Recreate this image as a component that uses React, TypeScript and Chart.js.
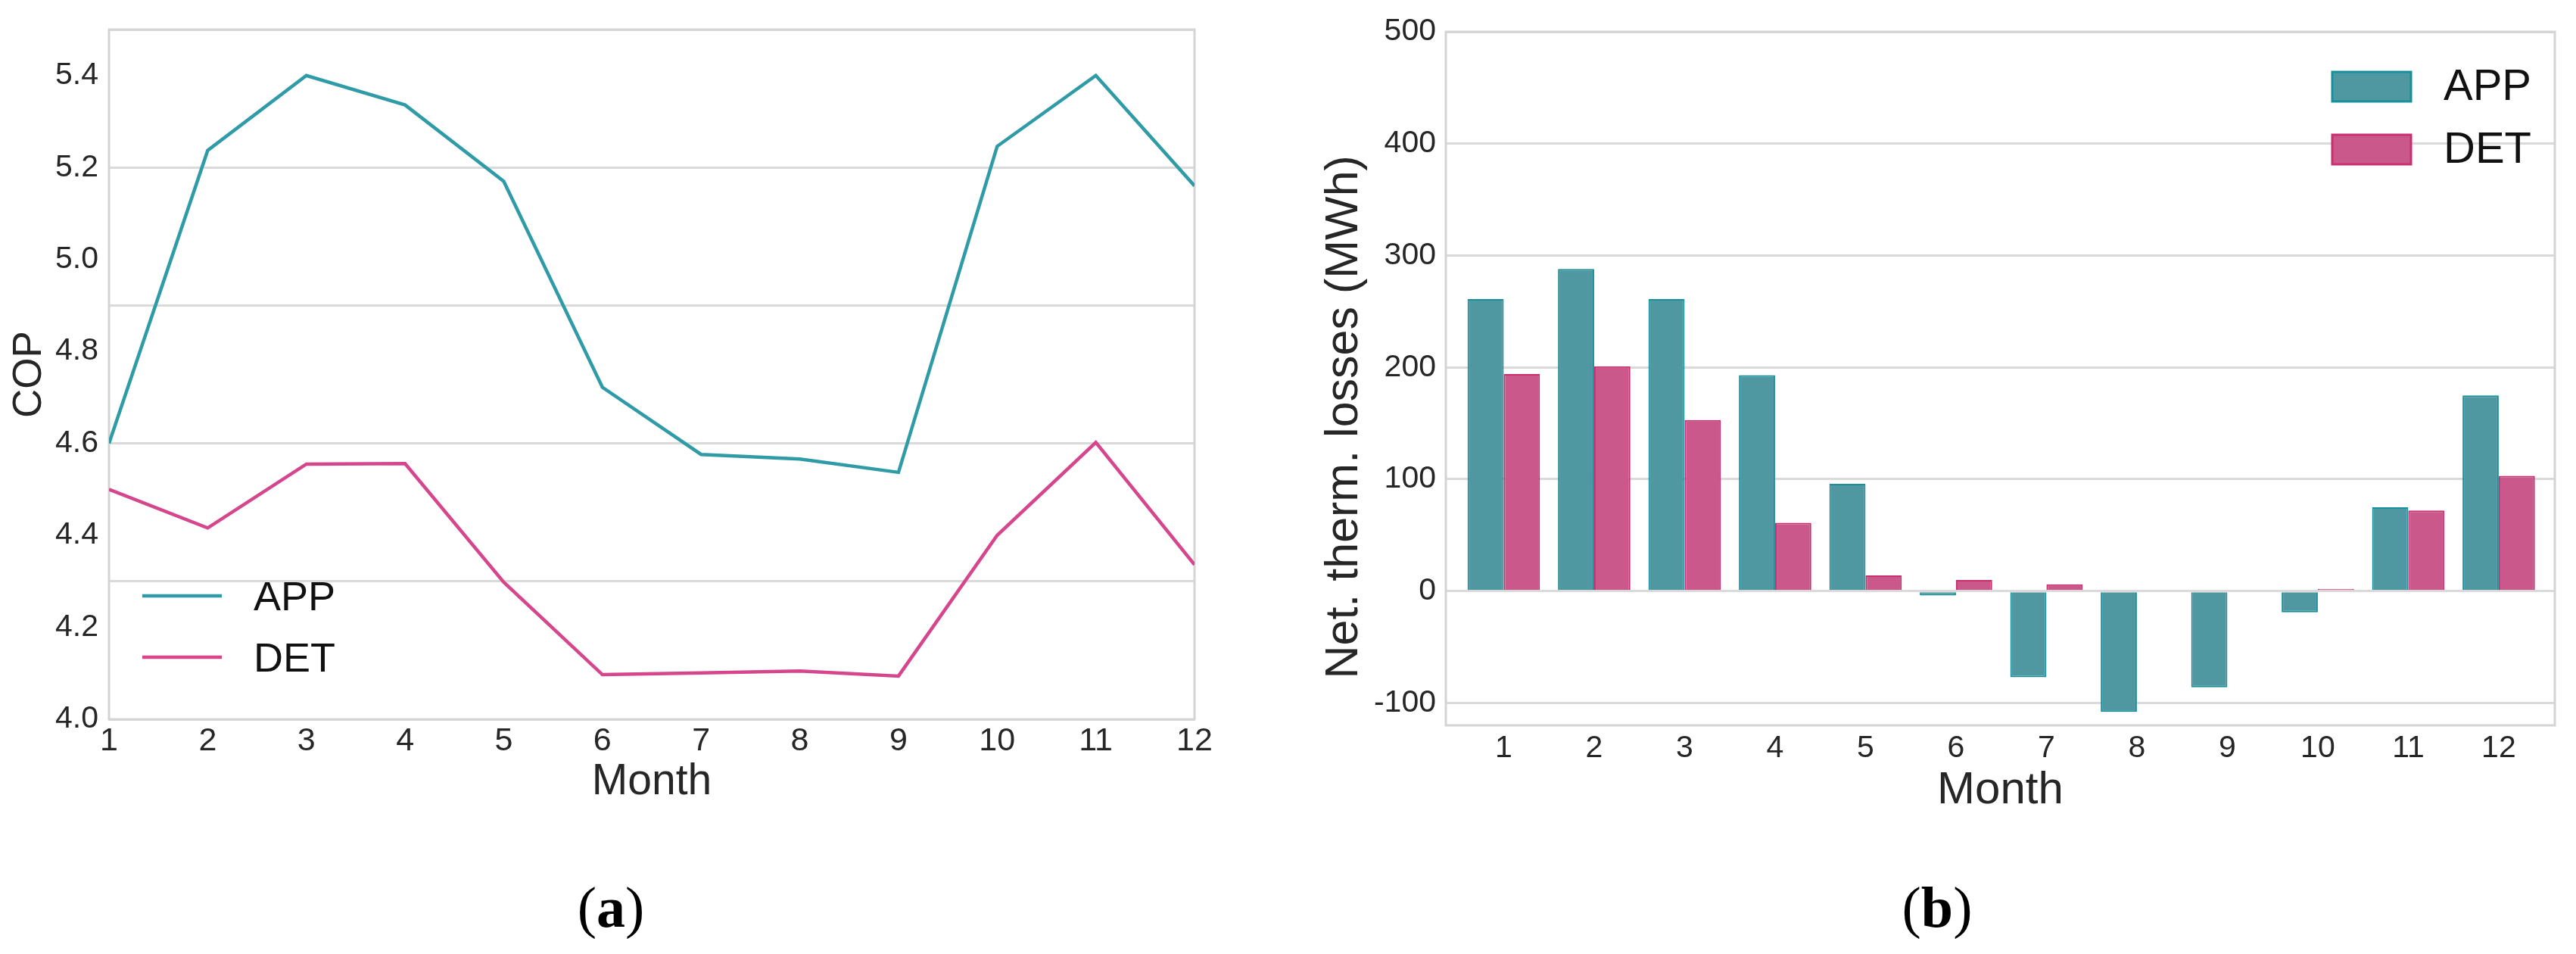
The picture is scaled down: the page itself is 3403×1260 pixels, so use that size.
import React, { useEffect, useRef } from 'react';
import { Chart, registerables } from 'chart.js';

Chart.register(...registerables);

// ---------- data ----------
const MONTHS = [1, 2, 3, 4, 5, 6, 7, 8, 9, 10, 11, 12];
const SERIES = ['APP', 'DET'];

const COP_APP = [4.6, 5.237, 5.4, 5.336, 5.17, 4.722, 4.576, 4.566, 4.537, 5.246, 5.4, 5.16];
const COP_DET = [4.5, 4.416, 4.555, 4.556, 4.298, 4.097, 4.101, 4.105, 4.094, 4.4, 4.602, 4.336];
const COP_TICKS = [4.0, 4.2, 4.4, 4.6, 4.8, 5.0, 5.2, 5.4];
const COP_GRID = [4.0, 4.3, 4.6, 4.9, 5.2, 5.5];

const LOSS_APP = [261, 288, 261, 193, 96, -4, -77, -108, -86, -19, 75, 175];
const LOSS_DET = [194, 201, 153, 61, 14, 10, 6, 0, 0, 2, 72, 103];
const LOSS_TICKS = [-100, 0, 100, 200, 300, 400, 500];

// ---------- styles ----------
const FONT = "'Liberation Sans', Arial, sans-serif";
const GRID = '#dadada';
const TEXT = '#262626';
const APP_LINE = '#2f9ba6';
const DET_LINE = '#d6468c';
const APP_FILL = '#4f98a2';
const APP_EDGE = '#17909b';
const DET_FILL = '#cb588a';
const DET_EDGE = '#c92e6e';

const framePlugin = {
  id: 'frame',
  beforeDatasetsDraw(chart: any) {
    const { ctx, chartArea: a } = chart;
    ctx.save();
    ctx.strokeStyle = '#d4d4d4';
    ctx.lineWidth = 3;
    ctx.strokeRect(a.left, a.top, a.right - a.left, a.bottom - a.top);
    ctx.restore();
  },
};

const lineLegendPlugin = {
  id: 'lineLegend',
  afterDraw(chart: any) {
    const { ctx, chartArea: a } = chart;
    ctx.save();
    ctx.font = `54px ${FONT}`;
    ctx.textBaseline = 'middle';
    ctx.textAlign = 'left';
    chart.data.datasets.forEach((ds: any, i: number) => {
      const y = a.bottom - 163 + i * 81;
      ctx.strokeStyle = ds.borderColor;
      ctx.lineWidth = 4.5;
      ctx.beginPath();
      ctx.moveTo(a.left + 44, y);
      ctx.lineTo(a.left + 149, y);
      ctx.stroke();
      ctx.fillStyle = '#111';
      ctx.fillText(ds.label, a.left + 191, y + 4);
    });
    ctx.restore();
  },
};

const barLegendPlugin = {
  id: 'barLegend',
  afterDraw(chart: any) {
    const { ctx, chartArea: a } = chart;
    ctx.save();
    ctx.font = `58px ${FONT}`;
    ctx.textBaseline = 'middle';
    ctx.textAlign = 'left';
    chart.data.datasets.forEach((ds: any, i: number) => {
      const top = a.top + 53 + i * 83;
      ctx.fillStyle = ds.backgroundColor;
      ctx.fillRect(a.right - 294, top, 104, 39);
      ctx.strokeStyle = ds.borderColor;
      ctx.lineWidth = 3;
      ctx.strokeRect(a.right - 294, top, 104, 39);
      ctx.fillStyle = '#111';
      ctx.fillText(ds.label, a.right - 147, top + 21);
    });
    ctx.restore();
  },
};

function CopChart() {
  const ref = useRef<HTMLCanvasElement>(null);
  useEffect(() => {
    if (!ref.current) return;
    const chart = new Chart(ref.current, {
      type: 'line',
      data: {
        datasets: [
          {
            label: SERIES[0],
            data: MONTHS.map((m, i) => ({ x: m, y: COP_APP[i] })),
            borderColor: APP_LINE,
            borderWidth: 4.5,
            pointRadius: 0,
            tension: 0,
          },
          {
            label: SERIES[1],
            data: MONTHS.map((m, i) => ({ x: m, y: COP_DET[i] })),
            borderColor: DET_LINE,
            borderWidth: 4.5,
            pointRadius: 0,
            tension: 0,
          },
        ],
      },
      options: {
        animation: false,
        responsive: false,
        layout: { padding: { top: 39, right: 72, bottom: 0, left: 0 } },
        plugins: { legend: { display: false }, tooltip: { enabled: false } },
        scales: {
          x: {
            type: 'linear',
            min: 1,
            max: 12,
            afterBuildTicks: (s: any) => { s.ticks = MONTHS.map((v) => ({ value: v })); },
            afterFit: (s: any) => { s.height = 150; },
            grid: { display: false, drawTicks: false },
            border: { display: false },
            ticks: { padding: 3, color: TEXT, font: { family: FONT, size: 43 }, callback: (v: any) => String(v) },
            title: { display: true, text: 'Month', color: TEXT, font: { family: FONT, size: 57 }, padding: { top: 0, bottom: 33 } },
          },
          y: {
            type: 'linear',
            position: 'left',
            min: 4.0,
            max: 5.5,
            afterBuildTicks: (s: any) => { s.ticks = COP_TICKS.map((v) => ({ value: v })); },
            afterFit: (s: any) => { s.width = 144; },
            grid: { display: false, drawTicks: false },
            border: { display: false },
            ticks: { padding: 14, color: TEXT, font: { family: FONT, size: 41 }, callback: (v: any) => Number(v).toFixed(1) },
            title: { display: true, text: 'COP', color: TEXT, font: { family: FONT, size: 53 }, padding: { top: 8, bottom: 0 } },
          },
          y2: {
            type: 'linear',
            position: 'right',
            min: 4.0,
            max: 5.5,
            afterBuildTicks: (s: any) => { s.ticks = COP_GRID.map((v) => ({ value: v })); },
            afterFit: (s: any) => { s.width = 0; },
            grid: { display: true, color: GRID, lineWidth: 3, drawTicks: false },
            border: { display: false },
            ticks: { display: false },
          },
        },
      },
      plugins: [framePlugin, lineLegendPlugin],
    } as any);
    return () => chart.destroy();
  }, []);
  return <canvas ref={ref} width={1650} height={1100} style={{ position: 'absolute', left: 0, top: 0, width: 1650, height: 1100 }} />;
}

function LossChart() {
  const ref = useRef<HTMLCanvasElement>(null);
  useEffect(() => {
    if (!ref.current) return;
    const chart = new Chart(ref.current, {
      type: 'bar',
      data: {
        datasets: [
          {
            label: SERIES[0],
            data: MONTHS.map((m, i) => ({ x: m, y: LOSS_APP[i] })),
            backgroundColor: APP_FILL,
            borderColor: APP_EDGE,
            borderWidth: 2,
            categoryPercentage: 0.8,
            barPercentage: 1.0,
          },
          {
            label: SERIES[1],
            data: MONTHS.map((m, i) => ({ x: m, y: LOSS_DET[i] })),
            backgroundColor: DET_FILL,
            borderColor: DET_EDGE,
            borderWidth: 2,
            categoryPercentage: 0.8,
            barPercentage: 1.0,
          },
        ],
      },
      options: {
        animation: false,
        responsive: false,
        layout: { padding: { top: 42, right: 28, bottom: 0, left: 0 } },
        plugins: { legend: { display: false }, tooltip: { enabled: false } },
        scales: {
          x: {
            type: 'linear',
            min: 0.36,
            max: 12.62,
            offset: false,
            afterBuildTicks: (s: any) => { s.ticks = MONTHS.map((v) => ({ value: v })); },
            afterFit: (s: any) => { s.height = 142; },
            grid: { display: false, drawTicks: false },
            border: { display: false },
            ticks: { padding: 6, color: TEXT, font: { family: FONT, size: 41 }, callback: (v: any) => String(v) },
            title: { display: true, text: 'Month', color: TEXT, font: { family: FONT, size: 60 }, padding: { top: 0, bottom: 20 } },
          },
          y: {
            type: 'linear',
            min: -120,
            max: 500,
            afterBuildTicks: (s: any) => { s.ticks = LOSS_TICKS.map((v) => ({ value: v })); },
            afterFit: (s: any) => { s.width = 230; },
            grid: { display: true, color: GRID, lineWidth: 3, drawTicks: false },
            border: { display: false },
            ticks: { padding: 13, color: TEXT, font: { family: FONT, size: 41 }, callback: (v: any) => String(v) },
            title: { display: true, text: 'Net. therm. losses (MWh)      ', color: TEXT, font: { family: FONT, size: 61 }, padding: { top: 60, bottom: 0 } },
          },
        },
      },
      plugins: [framePlugin, barLegendPlugin],
    } as any);
    return () => chart.destroy();
  }, []);
  return <canvas ref={ref} width={1723} height={1100} style={{ position: 'absolute', left: 1680, top: 0, width: 1723, height: 1100 }} />;
}

const captionStyle: React.CSSProperties = {
  position: 'absolute',
  top: 1160,
  width: 300,
  textAlign: 'center',
  fontFamily: "'Liberation Serif', 'Times New Roman', serif",
  fontSize: 76,
  lineHeight: '76px',
  color: '#000',
};

export default function App() {
  return (
    <div style={{ position: 'absolute', left: 0, top: 0, width: 3403, height: 1260, background: '#fff', overflow: 'hidden' }}>
      <CopChart />
      <LossChart />
      <div style={{ ...captionStyle, left: 807 - 150 }}>(<b>a</b>)</div>
      <div style={{ ...captionStyle, left: 2559 - 150 }}>(<b>b</b>)</div>
    </div>
  );
}
